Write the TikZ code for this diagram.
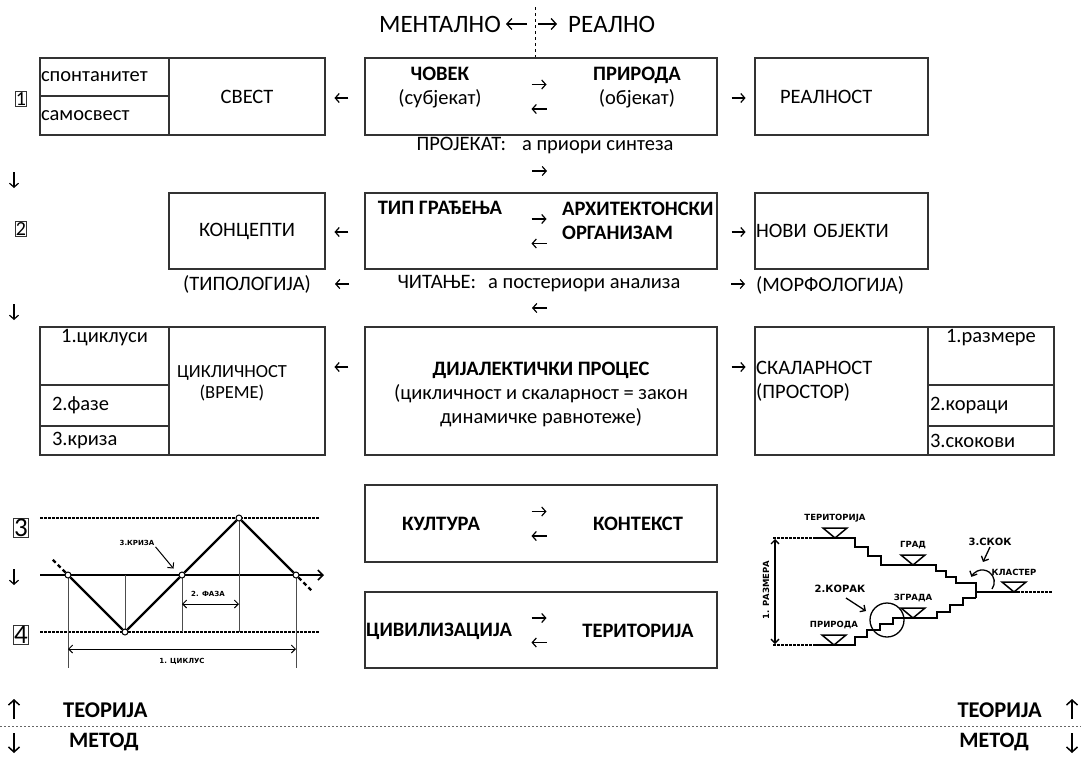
\documentclass[tikz,border=0pt]{standalone}
\usepackage{fontspec}
\setmainfont{Carlito}
\newfontfamily\lblfont{DejaVu Sans}
\usepackage{tikz}
\usetikzlibrary{arrows.meta,positioning}
\tikzstyle{box}=[rectangle,draw=black!80,line width=1.1pt,inner sep=2pt]
\tikzstyle{cell}=[box,align=left]
\tikzstyle{numbox}=[rectangle,draw=black!80,line width=0.8pt,inner xsep=0.5pt,inner ysep=1pt]
\tikzstyle{arr}=[-{Straight Barb[length=4pt,width=9pt]},line width=1.2pt]
\tikzstyle{bigarr}=[-{Straight Barb[length=5pt,width=11pt]},line width=1.5pt]
\tikzstyle{dim}=[{Straight Barb[length=4pt,width=8pt]}-{Straight Barb[length=4pt,width=8pt]},line width=0.9pt]
\tikzstyle{levelline}=[dash pattern=on 2.5pt off 1.5pt,line width=1.6pt]
\tikzstyle{guide}=[line width=0.5pt,black!70]
\tikzstyle{knot}=[circle,draw,line width=1pt,fill=white,inner sep=0pt,minimum size=6pt]
\tikzstyle{stair}=[line width=1.8pt,line join=miter]
\tikzstyle{grlbl}=[font=\lblfont\bfseries\fontsize{7}{8}\selectfont]
\tikzstyle{stairlbl}=[font=\lblfont\bfseries\fontsize{8.5}{10}\selectfont]

\begin{document}
\begin{tikzpicture}[x=1pt,y=-1pt,inner sep=1pt,font=\fontsize{20.5}{24}\selectfont]
\useasboundingbox (0,0) rectangle (1081,758);

% heading
\node at (502,24) [anchor=east,font=\fontsize{25}{28}\selectfont] (ment) {МЕНТАЛНО};
\node at (567,24) [anchor=west,font=\fontsize{25}{28}\selectfont] (real) {РЕАЛНО};
\coordinate (split) at (535,7);

% row 1
\node at (21,99) [numbox,font=\fontsize{20}{22}\selectfont] (n1) {1};
\node at (104.5,77) [cell,minimum width=129pt,minimum height=38pt,inner xsep=1pt,text width=127pt] (spont) {спонтанитет};
\node at (104.5,115.5) [cell,minimum width=129pt,minimum height=39pt,inner xsep=1pt,text width=127pt] (samo) {самосвест};
\node at (247,96.5) [box,minimum width=156pt,minimum height=77pt] (svest) {СВЕСТ};
\node at (541,96.5) [box,minimum width=352pt,minimum height=77pt] (covek) {};
\node at (440,87.5) [align=center] (covektxt) {\textbf{ЧОВЕК}\\(субјекат)};
\node at (637,87.5) [align=center] (prirtxt) {\textbf{ПРИРОДА}\\(објекат)};
\node at (841.5,96.5) [cell,minimum width=173pt,minimum height=77pt,inner xsep=25pt,text width=123pt] (realnost) {РЕАЛНОСТ};
\node at (545,145) (projekat) {ПРОЈЕКАТ:\hspace{16pt}а приори синтеза};

% row 2
\node at (21,229) [numbox,font=\fontsize{20}{22}\selectfont] (n2) {2};
\node at (247,231) [box,minimum width=156pt,minimum height=76pt] (koncepti) {КОНЦЕПТИ};
\node at (541,231) [box,minimum width=352pt,minimum height=76pt] (tip) {};
\node at (440,208) (tiptxt) {\textbf{ТИП ГРАЂЕЊА}};
\node at (561,220.5) [anchor=west,align=left] (orgtxt) {\textbf{АРХИТЕКТОНСКИ}\\\textbf{ОРГАНИЗАМ}};
\node at (841.5,231) [cell,minimum width=173pt,minimum height=76pt,inner xsep=1pt,text width=171pt] (novi) {НОВИ ОБЈЕКТИ};
\node at (247,284) (tipol) {(ТИПОЛОГИЈА)};
\node at (539,284) (citanje) {ЧИТАЊЕ:\hspace{12pt}а постериори анализа};
\node at (755,285) [anchor=west] (morfo) {(МОРФОЛОГИЈА)};

% row 3
\node at (104.5,356) [box,minimum width=129pt,minimum height=58pt] (ciklusi) {};
\node [below=2pt of ciklusi.north] (ciklusitxt) {1.циклуси};
\node at (104.5,405.5) [cell,minimum width=129pt,minimum height=41pt,inner xsep=12pt,text width=105pt] (faze) {2.фазе};
\node at (104.5,440.5) [cell,minimum width=129pt,minimum height=29pt,inner xsep=12pt,text width=105pt] (kriza) {3.криза};
\node at (247,391) [box,minimum width=156pt,minimum height=128pt] (ciklicnost) {};
\node at (232,383) [align=center,font=\fontsize{18.5}{21}\selectfont] (ciklicnosttxt) {ЦИКЛИЧНОСТ\\(ВРЕМЕ)};
\node at (541,391) [box,minimum width=352pt,minimum height=128pt] (proces) {};
\node at (541,394) [align=center] (procestxt) {\textbf{ДИЈАЛЕКТИЧКИ ПРОЦЕС}\\(цикличност и скаларност = закон\\динамичке равнотеже)};
\node at (841.5,391) [box,minimum width=173pt,minimum height=128pt] (skalar) {};
\node at (755,381) [anchor=west,align=left] (skalartxt) {СКАЛАРНОСТ\\(ПРОСТОР)};
\node at (991,356) [box,minimum width=126pt,minimum height=58pt] (razmere) {};
\node [below=2pt of razmere.north] (razmeretxt) {1.размере};
\node at (991,405.5) [cell,minimum width=126pt,minimum height=41pt,inner xsep=2pt,text width=122pt] (koraci) {2.кораци};
\node at (991,440.5) [cell,minimum width=126pt,minimum height=29pt,inner xsep=2pt,text width=122pt] (skokovi) {3.скокови};

% row 4
\node at (21,528) [numbox,font=\fontsize{27}{29}\selectfont] (n3) {3};
\node at (21,635) [numbox,font=\fontsize{27}{29}\selectfont] (n4) {4};
\node at (541,523.5) [box,minimum width=352pt,minimum height=77pt] (kult) {};
\node at (441,524) (kulttxt) {\textbf{КУЛТУРА}};
\node at (638,524) (konttxt) {\textbf{КОНТЕКСТ}};
\node at (541,630) [box,minimum width=352pt,minimum height=76pt] (civil) {};
\node at (439,631) (civtxt) {\textbf{ЦИВИЛИЗАЦИЈА}};
\node at (638,631) (tertxt) {\textbf{ТЕРИТОРИЈА}};

% arrows
\draw[bigarr,line width=1.3pt] ([xshift=25pt]ment.east) -- ++(-21,0);
\draw[bigarr,line width=1.3pt] ([xshift=-29pt]real.west) -- ++(19,0);
\draw[dashed,line width=0.6pt] (split) -- (split |- covek.north);
\foreach \b in {covek,tip,kult,civil} {
  \draw[arr] ([xshift=-9.5pt,yshift=12pt]\b.center) -- ++(15,0);
  \draw[arr] ([xshift=5.5pt,yshift=-12.5pt]\b.center) -- ++(-15,0);
}
\draw[arr] ([xshift=-16pt,yshift=-1.5pt]covek.west) -- ++(-14,0);
\draw[arr] ([xshift=14pt,yshift=-1.5pt]covek.east) -- ++(14,0);
\draw[arr] ([xshift=-13pt,yshift=-26pt]projekat.center) -- ++(15,0);
\draw[arr] ([xshift=-16pt,yshift=-1pt]tip.west) -- ++(-14,0);
\draw[arr] ([xshift=14pt,yshift=-1pt]tip.east) -- ++(14,0);
\draw[arr] ([xshift=-190pt]citanje.center) -- ++(-14,0);
\draw[arr] ([xshift=192pt]citanje.center) -- ++(14,0);
\draw[arr] ([xshift=8pt,yshift=-24pt]citanje.center) -- ++(-15,0);
\draw[arr] ([xshift=-16pt,yshift=24pt]proces.west) -- ++(-14,0);
\draw[arr] ([xshift=14pt,yshift=24pt]proces.east) -- ++(14,0);
\foreach \y in {172,304,569} \draw[arr] (14,\y) -- ++(0,16);

% cycle graph
\draw[levelline] (40,518) -- (320,518);
\draw[levelline] (40,632) -- (320,632);
\draw[line width=1.6pt,-{Straight Barb[length=5pt,width=10pt]}] (40,575) -- (324,575);
\foreach \x/\t in {125/575,182/575,239/518} \draw[guide] (\x,\t) -- (\x,632);
\draw[guide] (68,575) -- (68,668);
\draw[guide] (296,575) -- (296,668);
\node at (68,575) [knot] (a) {};
\node at (125,632) [knot] (b) {};
\node at (182,575) [knot] (c) {};
\node at (239,518) [knot] (d) {};
\node at (296,575) [knot] (e) {};
\draw[line width=2.4pt] (a) -- (b) -- (c) -- (d) -- (e);
\draw[line width=2.4pt,dash pattern=on 4pt off 3pt] (a) -- ++(-16,-16);
\draw[line width=2.4pt,dash pattern=on 4pt off 3pt] (e) -- ++(17,17);
\draw[dim] (68,649) -- (296,649);
\node at (182,661) [grlbl] (ciklus) {1. ЦИКЛУС};
\draw[dim] (182,604) -- (239,604);
\node at (208,594) [grlbl] (faza) {2. ФАЗА};
\node at (137,543) [grlbl] (krizalbl) {3.КРИЗА};
\draw[-{Straight Barb[length=4pt,width=8pt]},line width=1pt] (krizalbl.south east) -- ([xshift=-6pt,yshift=4pt]c.north west);

% scale stairs
\draw[levelline,line width=1.2pt] (773,538) -- (814,538);
\draw[levelline,line width=1.2pt] (773,645) -- (815,645);
\draw[levelline,line width=1.2pt] (1017,592) -- (1053,592);
\draw[stair] (814,538) -- (855,538) -- (855,547) -- (868,547) -- (868,556) -- (881,556) -- (881,565) -- (936,565)
  -- (936,571) -- (946,571) -- (946,577) -- (956,577) -- (956,583) -- (976,583) -- (976,598);
\draw[stair] (815,645) -- (855,645) -- (855,637) -- (867,637) -- (867,630) -- (880,630) -- (880,624) -- (893,624)
  -- (893,618) -- (937,618) -- (937,612) -- (950,612) -- (950,605) -- (963,605) -- (963,598) -- (976,598);
\draw[stair] (976,592) -- (1017,592);
\foreach \x/\y/\t/\n in {835/538/ТЕРИТОРИЈА/ter,913/565/ГРАД/grad,1014/592/КЛАСТЕР/klast,913/618/ЗГРАДА/zgr,834/645/ПРИРОДА/prir}{
  \draw[line width=1.5pt,line join=miter] (\x-12,\y-10) -- (\x+12,\y-10) -- (\x,\y) -- cycle;
  \node at (\x,\y-20) [stairlbl] (\n) {\t};
}
\draw[dim,line width=1.3pt] (775,539) -- (775,644);
\node at (766,590) [stairlbl,rotate=90] (razm) {1. РАЗМЕРА};
\node at (840,589) [stairlbl,font=\lblfont\bfseries\fontsize{10}{12}\selectfont] (korak) {2.КОРАК};
\draw[-{Straight Barb[length=4pt,width=8pt]},line width=1.3pt] (846,598) -- (866,611);
\node at (887,620) [circle,draw,line width=1.3pt,minimum size=34pt,inner sep=0pt] (korakring) {};
\node at (990,542) [stairlbl,font=\lblfont\bfseries\fontsize{10}{12}\selectfont] (skok) {3.СКОК};
\draw[-{Straight Barb[length=4pt,width=8pt]},line width=1.3pt] (skok.south) -- ++(-7,15);
\draw[-{Straight Barb[length=4pt,width=8pt]},line width=1.3pt] (992,589) arc[start angle=36,end angle=-155,radius=12];

% theory / method
\draw[dash pattern=on 2pt off 2pt,line width=1pt,black!60] (0,726) -- (1081,726);
\node at (62,710) [anchor=west,font=\bfseries\fontsize{22.5}{24}\selectfont] (teo1) {ТЕОРИЈА};
\node at (68,742) [anchor=west,font=\bfseries\fontsize{22}{24}\selectfont] (met1) {МЕТОД};
\node at (1043,710) [anchor=east,font=\bfseries\fontsize{22.5}{24}\selectfont] (teo2) {ТЕОРИЈА};
\node at (1030,742) [anchor=east,font=\bfseries\fontsize{22}{24}\selectfont] (met2) {МЕТОД};
\foreach \x in {14,1072} {
  \draw[bigarr] (\x,719) -- (\x,699);
  \draw[bigarr] (\x,733) -- (\x,753);
}
\end{tikzpicture}
\end{document}
